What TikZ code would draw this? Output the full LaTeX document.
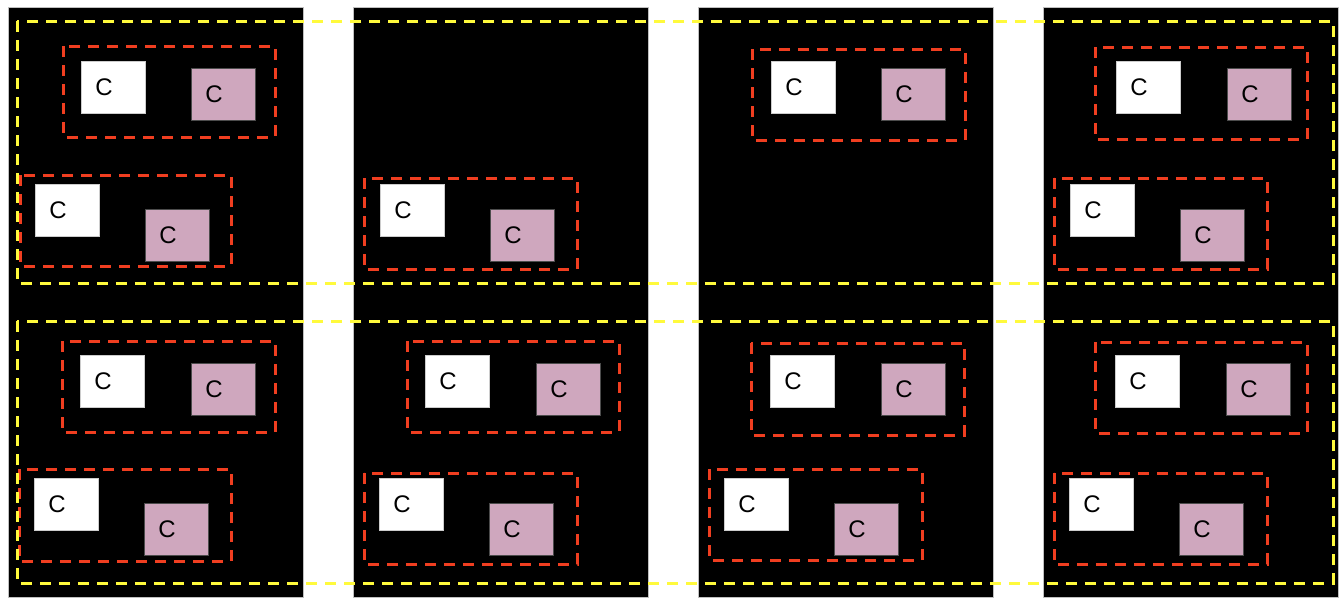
\documentclass[tikz,border=0pt]{standalone}
\usepackage{fontspec}
\setmainfont{Liberation Sans}
\definecolor{redd}{RGB}{240,62,32}
\definecolor{yell}{RGB}{255,250,60}
\definecolor{pinkb}{RGB}{207,167,190}
\tikzset{
  panel/.style={fill=black},
  paneledge/.style={draw=gray!50,line width=0.6pt},
  wbox/.style={anchor=north west,fill=white,draw=gray!40,line width=0.5pt,minimum width=64pt,minimum height=52pt,inner xsep=14pt,text width=36pt,align=left,font=\fontsize{24}{24}\selectfont,inner ysep=0pt},
  pbox/.style={wbox,fill=pinkb,draw=black!70},
  redbox/.style={draw=redd,line width=3pt,dash pattern=on 11pt off 8pt},
  yelbox/.style={draw=yell,line width=3pt,dash pattern=on 11pt off 8pt},
}
\newcommand{\mygroup}[9]{%
  \draw[redbox] (#2,#3) rectangle (#4,#5);
  \node[wbox] (#1w) at (#6,#7) {C};
  \node[pbox] (#1p) at (#8,#9) {C};
}
\begin{document}
\begin{tikzpicture}[x=1pt,y=-1pt]
\useasboundingbox (0,0) rectangle (1342,603);
% panels
\foreach \x in {8,353,698,1043}{
  \fill[panel] (\x,7) rectangle ++(295,590);
  \draw[paneledge] (\x,7) rectangle ++(295,590);
}
% top row
\mygroup{a1}{63}{46}{275}{137}{81}{61}{191}{68}
\mygroup{a2}{20}{175}{231}{266}{35}{184}{145}{209}
\mygroup{b1}{364}{178}{577}{269}{380}{184}{490}{209}
\mygroup{c1}{752}{49}{965}{140}{771}{61}{881}{68}
\mygroup{d1}{1095}{47}{1307}{139}{1116}{61}{1227}{68}
\mygroup{d2}{1054}{178}{1267}{269}{1070}{184}{1180}{209}
% bottom row
\mygroup{e1}{62}{341}{275}{432}{80}{355}{191}{363}
\mygroup{e2}{19}{469}{231}{561}{34}{478}{144}{503}
\mygroup{f1}{407}{341}{619}{432}{425}{355}{536}{363}
\mygroup{f2}{364}{473}{577}{564}{379}{478}{489}{503}
\mygroup{g1}{751}{343}{964}{435}{770}{355}{881}{363}
\mygroup{g2}{709}{469}{922}{560}{724}{478}{834}{503}
\mygroup{h1}{1095}{342}{1307}{433}{1115}{355}{1226}{363}
\mygroup{h2}{1054}{473}{1267}{564}{1069}{478}{1179}{503}
% yellow dashed frames
\draw[yelbox] (17,21) rectangle (1333,283);
\draw[yelbox] (17,321) rectangle (1333,583);
\end{tikzpicture}
\end{document}
